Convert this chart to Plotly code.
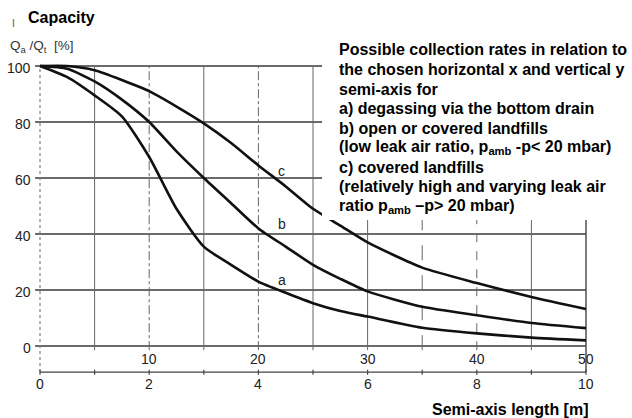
import plotly.graph_objects as go

# ---------------- data ----------------
semi_axis_m = [0, 0.5, 1, 1.5, 2, 2.5, 3, 3.5, 4, 4.5, 5, 5.5, 6, 7, 8, 9, 10]
rate_a = [100, 96, 89.5, 82, 67.5, 49, 35.5, 29, 23, 19, 15.3, 12.5, 10.5, 6.5, 4.5, 3, 2]
rate_b = [100, 99, 94.5, 88, 80, 69.5, 60, 51, 42, 35.5, 29, 24, 19.5, 14, 11, 8.2, 6.4]
rate_c = [100, 100, 98.5, 95, 91, 85.5, 79.5, 72.5, 64.5, 57, 49, 43, 37, 28, 22.5, 17.5, 13.2]

curve_names = ["a", "b", "c"]
label_x = 4.43
label_y = [23.5, 43.5, 62.5]

y_ticks = [0, 20, 40, 60, 80, 100]
x_ticks = [0, 2, 4, 6, 8, 10]
x_ticks_upper = [2, 4, 6, 8, 10]
x_upper_labels = ["10", "20", "30", "40", "50"]
x_minor = [1, 2, 3, 4, 5, 6, 7, 8, 9]

title_y = "Capacity"
y_unit = "Q<sub>a</sub> /Q<sub>t</sub>  [%]"
x_title = "Semi-axis length [m]"
note_lines = [
    "Possible collection rates in relation to",
    "the chosen horizontal x and vertical y",
    "semi-axis for",
    "a) degassing via the bottom drain",
    "b) open or covered landfills",
    "(low leak air ratio, p<sub>amb</sub> -p&lt; 20 mbar)",
    "c) covered landfills",
    "(relatively high and varying leak air",
    "ratio p<sub>amb</sub> \u2013p&gt; 20 mbar)",
]

# ---------------- layout helpers ----------------
W, H = 632, 418
def px(x):
    return x / W
def py(y):
    return 1 - y / H

X_RANGE = [-40 / 54.6, (W - 40) / 54.6]
Y_RANGE = [-(H - 346) / 2.8, 346 / 2.8]
AXIS_Y = -9.3  # position of the bottom scale line (in y data units)

fig = go.Figure()

for vals in (rate_a, rate_b, rate_c):
    fig.add_trace(go.Scatter(
        x=semi_axis_m, y=vals, mode="lines",
        line=dict(color="#111111", width=2.6, shape="spline", smoothing=0.6),
        hoverinfo="skip", showlegend=False,
    ))

shapes = []
# horizontal grid
for yv in y_ticks:
    shapes.append(dict(type="line", xref="x", yref="y", x0=-0.09, x1=10.0, y0=yv, y1=yv,
                       line=dict(color="#3a3a3a", width=1.6), layer="below"))
# vertical grid
v_styles = {1: "solid", 2: "dashdot", 3: "solid", 4: "dashdot", 5: "solid",
            6: "solid", 7: "longdash", 8: "dash", 9: "solid"}
for xv in x_minor:
    shapes.append(dict(type="line", xref="x", yref="y", x0=xv, x1=xv, y0=-1.5, y1=100,
                       line=dict(color="#666666", width=1.0, dash=v_styles[xv]), layer="below"))
# left and right boundary lines
shapes.append(dict(type="line", xref="x", yref="y", x0=0, x1=0, y0=AXIS_Y, y1=100,
                   line=dict(color="#777777", width=1.1, dash="dot"), layer="below"))
shapes.append(dict(type="line", xref="x", yref="y", x0=10, x1=10, y0=AXIS_Y, y1=100,
                   line=dict(color="#444444", width=1.4), layer="below"))
# bottom scale line with ticks
shapes.append(dict(type="line", xref="x", yref="y", x0=0, x1=10, y0=AXIS_Y, y1=AXIS_Y,
                   line=dict(color="#444444", width=1.3), layer="below"))
for xv in [0] + x_minor + [10]:
    shapes.append(dict(type="line", xref="x", yref="y", x0=xv, x1=xv, y0=AXIS_Y - 1.0, y1=AXIS_Y + 0.8,
                       line=dict(color="#444444", width=1.2), layer="below"))
# white note box covering part of the chart
shapes.append(dict(type="rect", xref="paper", yref="paper", x0=px(322), x1=1.0, y0=py(220), y1=py(36),
                   fillcolor="white", line=dict(width=0), layer="above"))

ann = []
tick_font = dict(family="Liberation Sans, Arial, sans-serif", size=14, color="#222222")
for yv in y_ticks:
    ann.append(dict(x=-0.13, y=yv - 0.8, xref="x", yref="y", text=str(yv), showarrow=False,
                    xanchor="right", yanchor="middle", font=tick_font))
for xv in x_ticks:
    ann.append(dict(x=xv, y=-13.6, xref="x", yref="y", text=str(xv), showarrow=False,
                    xanchor="center", yanchor="middle", font=tick_font))
for xv, lab in zip(x_ticks_upper, x_upper_labels):
    ann.append(dict(x=xv, y=-4.6, xref="x", yref="y", text=lab, showarrow=False,
                    xanchor="center", yanchor="middle", font=tick_font))
for nm, ly in zip(curve_names, label_y):
    ann.append(dict(x=label_x, y=ly, xref="x", yref="y", text=nm, showarrow=False,
                    xanchor="center", yanchor="middle", font=tick_font))

bold = dict(family="Liberation Sans, Arial, sans-serif", size=16, color="#000000")
ann.append(dict(x=px(26), y=py(17), xref="paper", yref="paper", text="<b>%s</b>" % title_y,
                showarrow=False, xanchor="left", yanchor="middle", font=bold))
ann.append(dict(x=px(10), y=py(24), xref="paper", yref="paper", text="I",
                showarrow=False, xanchor="left", yanchor="middle",
                font=dict(family="Liberation Sans, Arial, sans-serif", size=10, color="#555555")))
ann.append(dict(x=px(8), y=py(46), xref="paper", yref="paper", text=y_unit,
                showarrow=False, xanchor="left", yanchor="middle",
                font=dict(family="Liberation Sans, Arial, sans-serif", size=13.5, color="#333333")))
ann.append(dict(x=px(590), y=py(409), xref="paper", yref="paper", text="<b>%s</b>" % x_title,
                showarrow=False, xanchor="right", yanchor="middle", font=bold))
for i, line in enumerate(note_lines):
    ann.append(dict(x=px(337), y=py(50 + 19.5 * i), xref="paper", yref="paper",
                    text="<b>%s</b>" % line, showarrow=False, xanchor="left", yanchor="middle",
                    font=bold))

fig.update_layout(
    width=W, height=H,
    margin=dict(l=0, r=0, t=0, b=0),
    paper_bgcolor="white", plot_bgcolor="white",
    xaxis=dict(range=X_RANGE, visible=False, fixedrange=True),
    yaxis=dict(range=Y_RANGE, visible=False, fixedrange=True),
    shapes=shapes, annotations=ann, showlegend=False,
)

fig.write_html("out.html")
